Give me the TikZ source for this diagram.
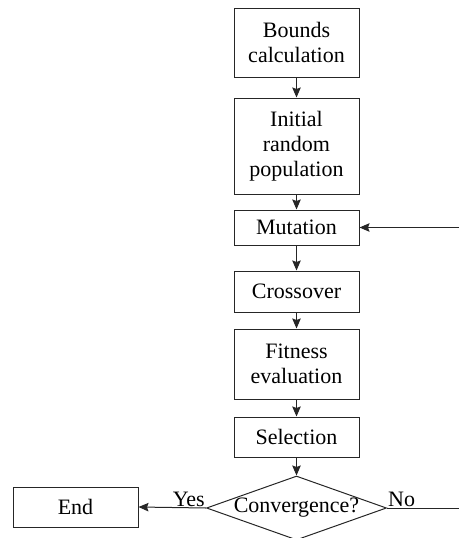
\documentclass[tikz,border=0pt]{standalone}
\usepackage{fontspec}
\setmainfont{Liberation Serif}
\usetikzlibrary{shapes.geometric,arrows.meta}
\begin{document}
\begin{tikzpicture}[x=1pt,y=-1pt,
  box/.style={draw=black!85, line width=1pt, minimum width=125pt, inner sep=0pt, align=center,
    font=\fontsize{22}{25}\selectfont},
  dec/.style={draw=black!85, line width=1pt, shape=diamond, aspect=2.81, inner sep=0pt,
    minimum width=180pt, minimum height=64pt, font=\fontsize{22}{25}\selectfont},
  lbl/.style={inner sep=1pt, font=\fontsize{22}{25}\selectfont},
  conn/.style={line width=1pt, draw=black!85},
  arr/.style={conn, -{Stealth[length=10pt,width=8.5pt,inset=1.5pt]}}]
\useasboundingbox (0,0) rectangle (459,538);
\node[box, minimum height=69pt] (bnd) at (296.5,42.5) {Bounds\\calculation};
\node[box, minimum height=96pt] (ini) at (296.5,146) {Initial\\random\\population};
\node[box, minimum height=35pt] (mut) at (296.5,227.5) {Mutation};
\node[box, minimum height=41pt] (cro) at (296.5,291.5) {Crossover};
\node[box, minimum height=70pt] (fit) at (296.5,364) {Fitness\\evaluation};
\node[box, minimum height=40pt] (sel) at (296.5,437) {Selection};
\node[dec] (conv) at (296.5,508) {Convergence?};
\node[box, minimum height=40pt] (end) at (75.5,507) {End};
\coordinate (r1) at (459,508);
\coordinate (r2) at (459,227.5);
\draw[arr] (bnd) -- (ini);
\draw[arr] (ini) -- (mut);
\draw[arr] (mut) -- (cro);
\draw[arr] (cro) -- (fit);
\draw[arr] (fit) -- (sel);
\draw[arr] (sel) -- (conv);
\draw[arr] (conv.west) -- (end.east);
\draw[conn] (conv.east) -- (r1);
\draw[arr] (r2) -- (mut.east);
\node[lbl, anchor=south east] (yes) at (conv.west) {Yes};
\node[lbl, anchor=south west] (no) at (conv.east) {No};
\end{tikzpicture}
\end{document}
